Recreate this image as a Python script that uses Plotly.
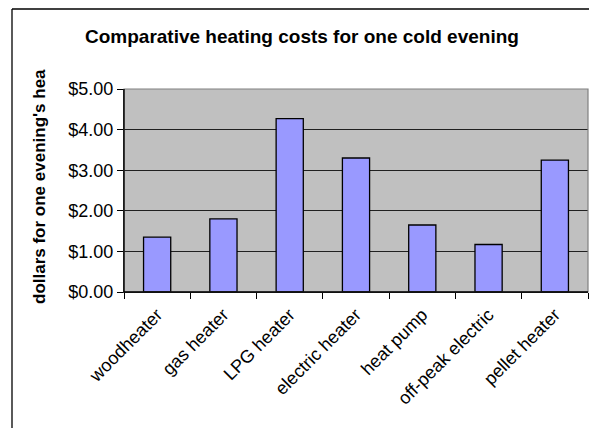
import plotly.graph_objects as go

categories = ["woodheater", "gas heater", "LPG heater", "electric heater",
              "heat pump", "off-peak electric", "pellet heater"]
costs = [1.35, 1.80, 4.27, 3.30, 1.65, 1.17, 3.25]
tick_vals = [0, 1, 2, 3, 4, 5]
tick_text = ["$0.00", "$1.00", "$2.00", "$3.00", "$4.00", "$5.00"]

W, H = 589, 428
L, R, T, B = 124, 1, 89, 136
pw, ph = W - L - R, H - T - B

def px(x):
    return (x - L) / pw

def py(y):
    return 1 - (y - T) / ph

fig = go.Figure()
fig.add_trace(go.Bar(
    x=categories, y=costs,
    marker=dict(color="#9999FF", line=dict(color="black", width=1.3)),
    width=0.41,
))

fig.update_layout(
    width=W, height=H,
    margin=dict(l=L, r=R, t=T, b=B),
    paper_bgcolor="white",
    plot_bgcolor="#C0C0C0",
    font=dict(family="Liberation Sans, Arial", color="black"),
    showlegend=False,
    bargap=0.59,
)
fig.update_xaxes(
    showgrid=False, tickangle=-45, tickfont=dict(size=18),
    ticks="outside", ticklen=6, tickcolor="black", tickson="boundaries",
    showline=True, linecolor="black", linewidth=1.3,
    range=[-0.5, 6.5], ticklabelstandoff=4,
)
fig.update_yaxes(
    range=[0, 5], tickvals=tick_vals, ticktext=tick_text,
    tickfont=dict(size=18), ticks="outside", ticklen=6, tickcolor="black",
    showgrid=True, gridcolor="#202020", gridwidth=1,
    showline=True, linecolor="black", linewidth=1.3, mirror=False,
    zeroline=False,
)
fig.add_shape(type="rect", xref="paper", yref="paper", x0=0, y0=0, x1=1, y1=1,
              line=dict(color="#808080", width=1.2), layer="above")
fig.add_shape(type="line", xref="paper", yref="paper", x0=0, y0=0, x1=0, y1=1,
              line=dict(color="black", width=1.3), layer="above")
fig.add_shape(type="line", xref="paper", yref="paper", x0=0, y0=0, x1=1, y1=0,
              line=dict(color="black", width=1.3), layer="above")
fig.add_shape(type="line", xref="paper", yref="paper", x0=px(12), y0=py(9), x1=px(600), y1=py(9),
              line=dict(color="black", width=1.3))
fig.add_shape(type="line", xref="paper", yref="paper", x0=px(12), y0=py(9), x1=px(12), y1=py(440),
              line=dict(color="black", width=1.3))

fig.add_annotation(text="<b>Comparative heating costs for one cold evening</b>",
                   xref="paper", yref="paper", x=px(302), y=py(36),
                   showarrow=False, font=dict(size=19), xanchor="center", yanchor="middle")
fig.add_annotation(text="<b>dollars for one evening's hea</b>",
                   xref="paper", yref="paper", x=px(39), y=py(187),
                   showarrow=False, font=dict(size=17), textangle=-90,
                   xanchor="center", yanchor="middle")

fig.write_html("out.html", config={"displayModeBar": False},
               post_script="document.body.style.margin='0px';document.body.style.overflow='hidden';")
